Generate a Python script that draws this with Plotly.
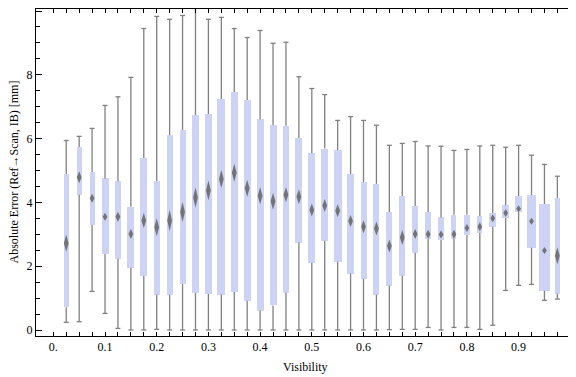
import plotly.graph_objects as go

# ---- data ----
visibility = [0.025, 0.05, 0.075, 0.1, 0.125, 0.15, 0.175, 0.2, 0.225, 0.25,
              0.275, 0.3, 0.325, 0.35, 0.375, 0.4, 0.425, 0.45, 0.475, 0.5,
              0.525, 0.55, 0.575, 0.6, 0.625, 0.65, 0.675, 0.7, 0.725, 0.75,
              0.775, 0.8, 0.825, 0.85, 0.875, 0.9, 0.925, 0.95, 0.975]
whisker_max = [5.94, 6.07, 6.32, 7.04, 7.31, 7.92, 9.45, 9.83, 9.74, 9.86,
               10.08, 9.74, 9.80, 9.45, 9.17, 9.39, 8.99, 9.02, 7.94, 7.57,
               7.38, 6.57, 6.69, 6.57, 6.42, 5.79, 5.85, 5.91, 5.77, 5.76,
               5.63, 5.66, 5.77, 5.79, 5.73, 5.79, 5.48, 5.19, 4.82]
q3 = [4.89, 5.74, 4.95, 4.75, 4.66, 3.86, 5.39, 4.67, 6.11, 6.27,
      6.74, 6.77, 7.24, 7.46, 7.21, 6.61, 6.42, 6.40, 6.02, 5.54,
      5.69, 5.64, 4.89, 4.64, 4.58, 3.70, 4.20, 3.89, 3.70, 3.53,
      3.61, 3.61, 3.57, 3.67, 3.91, 4.20, 4.23, 3.95, 4.14]
median = [2.72, 4.79, 4.13, 3.55, 3.55, 3.01, 3.43, 3.22, 3.43, 3.70,
          4.15, 4.37, 4.73, 4.93, 4.44, 4.21, 4.04, 4.24, 4.18, 3.76,
          3.90, 3.74, 3.42, 3.24, 3.18, 2.63, 2.90, 3.01, 3.00, 2.99,
          3.00, 3.20, 3.24, 3.50, 3.67, 3.80, 3.41, 2.49, 2.33]
q1 = [0.71, 4.24, 3.29, 2.38, 2.23, 1.95, 1.69, 1.11, 1.11, 1.44,
      1.16, 1.13, 1.11, 1.19, 0.92, 0.61, 0.77, 1.17, 2.74, 2.11,
      2.80, 2.14, 1.77, 1.61, 1.11, 1.39, 1.70, 2.42, 2.86, 2.82,
      2.86, 2.98, 3.05, 3.24, 3.51, 3.70, 2.58, 1.23, 1.14]
whisker_min = [0.24, 0.26, 1.21, 0.52, 0.05, 0.00, 0.00, 0.02, 0.00, 0.00,
               0.00, 0.00, 0.00, 0.00, 0.00, 0.00, 0.00, 0.00, 0.00, 0.00,
               0.00, 0.00, 0.00, 0.00, 0.00, 0.01, 0.02, 0.02, 0.08, 0.00,
               0.08, 0.08, 0.02, 0.15, 1.24, 1.40, 1.43, 0.93, 0.97]
x_tick_labels = ["0.", "0.1", "0.2", "0.3", "0.4", "0.5", "0.6", "0.7", "0.8", "0.9"]

# ---- styles (pixel sizes of the drawn marks) ----
box_width_px = [5, 5, 5, 7, 6.7, 7, 7, 6, 6, 6, 7, 6.3, 8, 7, 7, 7, 7, 6.7, 7, 7.3,
                7, 7.7, 7, 6, 6, 6, 6, 6, 6, 6, 5, 6, 5, 7, 7, 7, 8.7, 11, 5]
diamond_height_px = [17, 12, 9, 8, 10, 10, 15, 18, 21, 20, 20, 20, 18, 18, 17, 17, 17, 15,
                     15, 13, 13, 13, 12, 13, 14, 13, 15, 10, 9, 8, 9, 8, 9, 8, 8, 7, 7, 7, 17]

# The page body keeps its default 8px margin, so the figure is 8px smaller.
FIG_W, FIG_H = 568, 369
M_L, M_R, M_T, M_B = 28, 1, 1, 41
X_RANGE = [-0.0335, 1.0091]
Y_RANGE = [-0.188, 10.063]
PLOT_W = FIG_W - M_L - M_R
PLOT_H = FIG_H - M_T - M_B
px_x = (X_RANGE[1] - X_RANGE[0]) / PLOT_W   # data units per pixel (x)
px_y = (Y_RANGE[1] - Y_RANGE[0]) / PLOT_H   # data units per pixel (y)

BOX_COLOR = "#CCD3F5"
WHISKER_COLOR = "#808080"
MEDIAN_COLOR = "rgba(105,105,105,0.9)"
FONT = "Liberation Serif"

fig = go.Figure()

# boxes (Q1..Q3)
fig.add_trace(go.Bar(
    x=visibility,
    base=q1,
    y=[b - a for a, b in zip(q1, q3)],
    width=[w * px_x for w in box_width_px],
    marker=dict(color=BOX_COLOR, line=dict(width=0)),
    hoverinfo="skip", showlegend=False,
))

# whiskers with caps
cap = 2.5 * px_x
wx, wy = [], []
for x, lo, a, b, hi in zip(visibility, whisker_min, q1, q3, whisker_max):
    wx += [x, x, None, x - cap, x + cap, None, x, x, None, x - cap, x + cap, None]
    wy += [b, hi, None, hi, hi, None, a, lo, None, lo, lo, None]
fig.add_trace(go.Scatter(
    x=wx, y=wy, mode="lines",
    line=dict(color=WHISKER_COLOR, width=1.3),
    hoverinfo="skip", showlegend=False,
))

# median diamonds
dx = 2.4 * px_x
mx, my = [], []
for x, m, h in zip(visibility, median, diamond_height_px):
    hh = h / 2 * px_y
    mx += [x, x + dx, x, x - dx, x, None]
    my += [m + hh, m, m - hh, m, m + hh, None]
fig.add_trace(go.Scatter(
    x=mx, y=my, mode="lines", fill="toself",
    fillcolor=MEDIAN_COLOR, line=dict(width=0, color=MEDIAN_COLOR),
    hoverinfo="skip", showlegend=False,
))

tick_positions = [round(0.025 * k, 3) for k in range(40)]
tick_text = [x_tick_labels[k // 4] if k % 4 == 0 else "" for k in range(40)]

fig.update_layout(
    width=FIG_W, height=FIG_H,
    margin=dict(l=M_L, r=M_R, t=M_T, b=M_B),
    paper_bgcolor="white", plot_bgcolor="white",
    font=dict(family=FONT, size=12, color="black"),
    bargap=0,
    xaxis=dict(
        range=X_RANGE, tickmode="array", tickvals=tick_positions, ticktext=tick_text,
        ticks="inside", ticklen=4, tickwidth=1, tickcolor="black",
        showline=True, linecolor="black", linewidth=1, mirror="ticks",
        showgrid=False, zeroline=False,
        tickfont=dict(family=FONT, size=12, color="black"),
    ),
    yaxis=dict(
        range=Y_RANGE, tickmode="array", tickvals=[0, 2, 4, 6, 8, 10],
        ticktext=["0", "2", "4", "6", "8", "10"],
        ticks="inside", ticklen=6, tickwidth=1, tickcolor="black",
        minor=dict(tickmode="array", tickvals=[0.5 * k for k in range(21)],
                   ticks="inside", ticklen=3.5, tickwidth=1, tickcolor="black", showgrid=False),
        showline=True, linecolor="black", linewidth=1, mirror="ticks",
        showgrid=False, zeroline=False,
        tickfont=dict(family=FONT, size=12, color="black"),
    ),
    annotations=[
        dict(text="Visibility", xref="paper", yref="paper", x=0.5, y=0,
             xanchor="center", yanchor="middle", yshift=-31, showarrow=False,
             font=dict(family=FONT, size=12, color="black")),
        dict(text="Absolute Error (Ref\u2192Scan, IB) [mm]", xref="paper", yref="paper",
             x=0, y=0.5, xanchor="center", yanchor="middle", xshift=-23, textangle=-90,
             showarrow=False, font=dict(family=FONT, size=12, color="black")),
    ],
)

fig.write_html("out.html")
